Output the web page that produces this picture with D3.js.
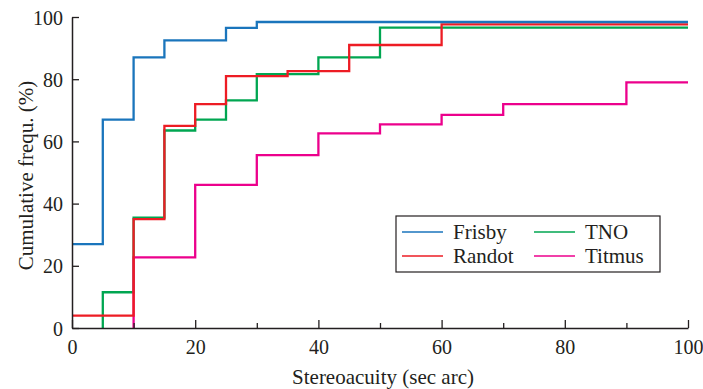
<!DOCTYPE html>
<html>
<head>
<meta charset="utf-8">
<script src="https://cdn.jsdelivr.net/npm/d3@7"></script>
<style>
  body { margin: 0; background: #fff; }
  svg text { font-family: 'Liberation Serif', 'DejaVu Serif', serif; fill: #231f20; }
</style>
</head>
<body>
<svg width="703" height="389"></svg>
<script>
  // step data (x = stereoacuity, y = cumulative %)
  const seriesNames = ['Frisby', 'Randot', 'TNO', 'Titmus'];
  const seriesColors = ['#1a75bc', '#ed1c24', '#00a651', '#ec008c'];

  const frisbyX = [0, 5, 10, 15, 25, 30, 100];
  const frisbyY = [27, 67, 87, 92.5, 96.5, 98.4, 98.4];

  const randotX = [0, 10, 15, 20, 25, 35, 45, 60, 100];
  const randotY = [4, 35, 65, 72, 81, 82.6, 91, 97.6, 97.6];

  const tnoX = [5, 5, 10, 15, 20, 25, 30, 40, 50, 100];
  const tnoY = [0, 11.5, 35.5, 63.5, 67, 73.2, 81.6, 87, 96.6, 96.6];

  const titmusX = [10, 10, 20, 30, 40, 50, 60, 70, 90, 100];
  const titmusY = [0, 22.7, 46, 55.6, 62.6, 65.5, 68.5, 72, 79, 79];

  const xTicks = [0, 20, 40, 60, 80, 100];
  const xMinorTicks = [10, 30, 50, 70, 90];
  const yTicks = [0, 20, 40, 60, 80, 100];

  const svg = d3.select('svg');
  const margin = { top: 17, right: 15, bottom: 61, left: 72 };
  const innerWidth = 616;
  const innerHeight = 311;

  const xScale = d3.scaleLinear().domain([0, 100]).range([0, innerWidth]);
  const yScale = d3.scaleLinear().domain([0, 100]).range([innerHeight, 0]);

  const g = svg.append('g')
    .attr('transform', `translate(${margin.left},${margin.top})`);

  const zip = (xs, ys) => xs.map((x, i) => ({ x, y: ys[i] }));
  const series = [
    { name: 'TNO', color: seriesColors[2], points: zip(tnoX, tnoY) },
    { name: 'Titmus', color: seriesColors[3], points: zip(titmusX, titmusY) },
    { name: 'Randot', color: seriesColors[1], points: zip(randotX, randotY) },
    { name: 'Frisby', color: seriesColors[0], points: zip(frisbyX, frisbyY) }
  ];

  const line = d3.line()
    .x(d => xScale(d.x))
    .y(d => yScale(d.y))
    .curve(d3.curveStepAfter);

  g.selectAll('path.series').data(series)
    .enter().append('path')
      .attr('class', 'series')
      .attr('fill', 'none')
      .attr('stroke', d => d.color)
      .attr('stroke-width', 2.3)
      .attr('d', d => line(d.points));

  // axes, ticks pointing inward
  const xAxisG = g.append('g')
    .attr('transform', `translate(0,${innerHeight})`)
    .call(d3.axisBottom(xScale).tickValues(xMinorTicks).tickSize(-5).tickFormat(''));
  xAxisG.selectAll('.domain').remove();
  xAxisG.selectAll('text').remove();

  const xMajorG = g.append('g')
    .attr('transform', `translate(0,${innerHeight})`)
    .call(d3.axisBottom(xScale).tickValues(xTicks).tickSize(-8).tickSizeOuter(0).tickPadding(12));

  const yAxisG = g.append('g')
    .call(d3.axisLeft(yScale).tickValues(yTicks).tickSize(-7).tickSizeOuter(0).tickPadding(9));

  [xAxisG, xMajorG, yAxisG].forEach(a => {
    a.attr('font-family', null).attr('font-size', 20);
    a.selectAll('line').attr('stroke', '#231f20').attr('stroke-width', 1.3);
    a.selectAll('.domain').attr('stroke', '#231f20').attr('stroke-width', 1.5);
    a.selectAll('text').attr('fill', '#231f20');
  });
  yAxisG.selectAll('.tick text').attr('dy', '0.35em');

  g.append('text')
    .attr('font-size', 21)
    .attr('x', innerWidth / 2 + 3)
    .attr('y', innerHeight + 56)
    .attr('text-anchor', 'middle')
    .text('Stereoacuity (sec arc)');

  g.append('text')
    .attr('font-size', 21)
    .attr('transform', 'rotate(-90)')
    .attr('x', -innerHeight / 2 - 3)
    .attr('y', -39)
    .attr('text-anchor', 'middle')
    .text('Cumulative frequ. (%)');

  // legend: two columns, Frisby/Randot then TNO/Titmus
  const legend = svg.append('g')
    .attr('transform', 'translate(396,216)');
  legend.append('rect')
    .attr('width', 264)
    .attr('height', 56)
    .attr('fill', '#fff')
    .attr('stroke', '#231f20')
    .attr('stroke-width', 1.2);

  const legendItems = legend.selectAll('g.item').data(seriesNames)
    .enter().append('g')
      .attr('class', 'item')
      .attr('transform', (d, i) => `translate(${6 + Math.floor(i / 2) * 132},${16 + (i % 2) * 24})`);
  legendItems.append('line')
    .attr('x1', 0).attr('x2', 41)
    .attr('stroke', (d, i) => seriesColors[i])
    .attr('stroke-width', 1.5);
  legendItems.append('text')
    .attr('font-size', 21)
    .attr('x', 51)
    .attr('dy', '0.35em')
    .text(d => d);
</script>
</body>
</html>
